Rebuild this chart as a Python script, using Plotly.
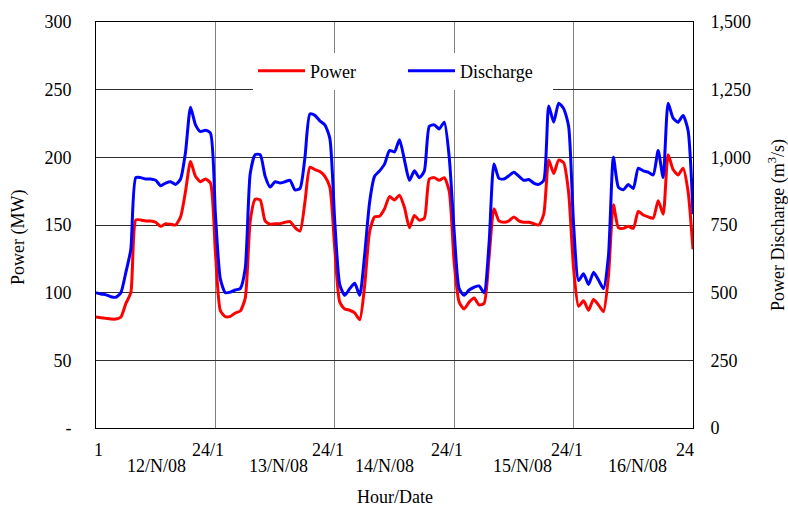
import plotly.graph_objects as go

hours = list(range(0, 121))

power_mw = [
    82, 81.5, 81, 80.5, 80.5, 82, 92, 100, 153.7, 153.7, 153, 153, 152, 149, 151, 150.5, 150, 156, 175, 197, 186, 182, 184, 181,
    130, 86.7, 82.3, 82.5, 85, 86.5, 96, 153, 169, 168.5, 153, 150.5, 151, 151, 152, 152.5, 148, 145.5, 167, 192.6, 191, 189.5, 186, 178,
    132, 93, 88, 87, 85, 80, 105, 145, 156, 156.5, 162, 171, 168.5, 172, 163, 148, 157, 153.5, 155, 184, 185, 183, 185, 175,
    122, 93, 88, 93, 96, 91, 92, 126, 162, 153, 152, 153, 156, 153, 152, 152, 151, 150, 158, 198, 188, 198, 196, 174,
    118, 90, 94, 87, 95, 91, 86, 112, 165, 148, 147.5, 149, 147.5, 160, 157.4, 156, 155, 168, 158, 202, 191, 187, 192, 175,
    132,
]

discharge_m3s = [
    500, 495, 492, 485, 483, 500, 575, 660, 925, 925, 920, 920, 915, 895, 905, 910, 900, 920, 1020, 1185, 1120, 1095, 1100, 1090,
    790, 550, 500, 502, 510, 515, 590, 940, 1010, 1010, 930, 890, 910, 905, 910, 915, 880, 885, 1000, 1160, 1155, 1135, 1120, 1070,
    760, 530, 490, 515, 535, 490, 640, 835, 930, 950, 975, 1025, 1020, 1065, 990, 915, 950, 925, 950, 1115, 1120, 1105, 1130, 1000,
    725, 515, 490, 510, 520, 525, 500, 680, 975, 922, 920, 932, 945, 930, 915, 918, 905, 900, 915, 1190, 1130, 1200, 1180, 1115,
    750, 545, 570, 530, 575, 547, 515, 635, 1000, 890, 880, 900, 885, 960, 950, 945, 935, 1025, 925, 1200, 1145, 1130, 1155, 1100,
    790,
]

power_ticks = [0, 50, 100, 150, 200, 250, 300]
power_ticktext = ["-", "50", "100", "150", "200", "250", "300"]
discharge_ticks = [0, 250, 500, 750, 1000, 1250, 1500]
discharge_ticktext = ["0", "250", "500", "750", "1,000", "1,250", "1,500"]

day_bounds = [24, 48, 72, 96]
hour_labels = ["1", "24/1", "24/1", "24/1", "24/1", "24"]
hour_label_pos = [0.5, 22.6, 46.6, 70.6, 94.6, 118.4]
date_labels = ["12/N/08", "13/N/08", "14/N/08", "15/N/08", "16/N/08"]
date_label_pos = [12.1, 36.6, 57.9, 85.8, 108.8]

FONT = "Liberation Serif, Times New Roman, serif"

fig = go.Figure()
fig.add_trace(go.Scatter(x=hours, y=power_mw, name="Power", mode="lines",
                         line=dict(color="#ff0000", width=3, shape="spline", smoothing=0.6)))
fig.add_trace(go.Scatter(x=hours, y=discharge_m3s, name="Discharge", mode="lines", yaxis="y2",
                         line=dict(color="#0000ff", width=3, shape="spline", smoothing=0.6)))

fig.update_layout(
    width=788, height=506,
    margin=dict(l=96, r=95, t=22, b=78),
    paper_bgcolor="white", plot_bgcolor="white",
    font=dict(family=FONT, size=18, color="black"),
    showlegend=True,
    legend=dict(orientation="h", x=0.263, y=0.879, xanchor="left", yanchor="middle",
                bgcolor="white", borderwidth=0, font=dict(size=18, family=FONT),
                itemwidth=47, entrywidth=88, entrywidthmode="pixels"),
    xaxis=dict(range=[0, 120], tickvals=day_bounds, showticklabels=False, ticks="",
               showgrid=True, gridcolor="#808080", gridwidth=1,
               showline=True, linecolor="black", linewidth=1, mirror=True, zeroline=False),
    yaxis=dict(range=[0, 300], tickvals=power_ticks, ticktext=power_ticktext,
               showgrid=True, gridcolor="#303030", gridwidth=1, ticks="",
               ticklabelstandoff=20,
               showline=True, linecolor="black", linewidth=1, zeroline=False),
    yaxis2=dict(range=[0, 1500], tickvals=discharge_ticks, ticktext=discharge_ticktext,
                overlaying="y", side="right", showgrid=False, ticks="",
                ticklabelstandoff=13,
                showline=True, linecolor="black", linewidth=1, zeroline=False),
)

annotations = []
for lab, pos in zip(hour_labels, hour_label_pos):
    annotations.append(dict(x=pos, y=-0.054, xref="x", yref="paper", text=lab, showarrow=False,
                            xanchor="center", yanchor="middle", font=dict(size=18, family=FONT)))
for lab, pos in zip(date_labels, date_label_pos):
    annotations.append(dict(x=pos, y=-0.094, xref="x", yref="paper", text=lab, showarrow=False,
                            xanchor="center", yanchor="middle", font=dict(size=18, family=FONT)))
annotations.append(dict(x=0.5, y=-0.17, xref="paper", yref="paper", text="Hour/Date", showarrow=False,
                        xanchor="center", yanchor="middle", font=dict(size=18, family=FONT)))
annotations.append(dict(x=-0.131, y=0.47, xref="paper", yref="paper", text="Power (MW)", showarrow=False,
                        textangle=-90, xanchor="center", yanchor="middle", font=dict(size=18, family=FONT)))
annotations.append(dict(x=1.1407, y=0.5, xref="paper", yref="paper", text="Power Discharge (m<sup>3</sup>/s)",
                        showarrow=False, textangle=-90, xanchor="center", yanchor="middle",
                        font=dict(size=18, family=FONT)))
fig.update_layout(annotations=annotations)

fig.write_html("out.html")
